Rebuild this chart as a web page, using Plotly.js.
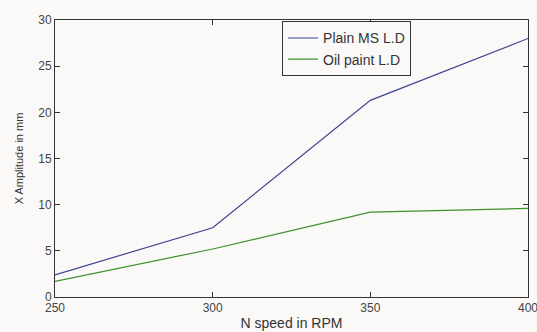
<!DOCTYPE html>
<html>
<head>
<meta charset="utf-8">
<script src="https://cdn.plot.ly/plotly-3.0.1.min.js"></script>
<style>
html,body{margin:0;padding:0;background:#fbf9f7;}
#chart{width:537px;height:332px;}
</style>
</head>
<body>
<div id="chart"></div>
<script>
const speeds = [250, 300, 350, 400];
const plainMS = [2.4, 7.5, 21.3, 28.0];
const oilPaint = [1.7, 5.2, 9.2, 9.6];
const seriesNames = ["Plain MS L.D", "Oil paint L.D"];
const xTicks = [250, 300, 350, 400];
const yTicks = [0, 5, 10, 15, 20, 25, 30];

const traces = [
  {x: speeds, y: plainMS, name: seriesNames[0], mode: "lines",
   line: {color: "#3d4494", width: 1.2}},
  {x: speeds, y: oilPaint, name: seriesNames[1], mode: "lines",
   line: {color: "#3f8f2e", width: 1.2}}
];

const axisCommon = {
  showgrid: false, zeroline: false, showline: true, mirror: "ticks",
  linecolor: "#333", linewidth: 1, ticks: "inside", ticklen: 5,
  tickcolor: "#333", ticklabeloverflow: "allow",
  tickfont: {family: "Liberation Sans, Arial", size: 12, color: "#444"}
};

const layout = {
  width: 537, height: 332,
  margin: {l: 55, r: 9, t: 20, b: 35},
  paper_bgcolor: "#fbf9f7", plot_bgcolor: "#fbf9f7",
  showlegend: true,
  legend: {x: 0.48, y: 0.995, xanchor: "left", yanchor: "top",
    bgcolor: "#fbf9f7", bordercolor: "#333", borderwidth: 1,
    font: {family: "Liberation Sans, Arial", size: 14, color: "#333"},
    tracegroupgap: 0, itemwidth: 30},
  xaxis: Object.assign({}, axisCommon, {range: [250, 400], tickvals: xTicks,
    title: {text: "N speed in RPM", standoff: 3,
      font: {family: "Liberation Sans, Arial", size: 14, color: "#333"}}}),
  yaxis: Object.assign({}, axisCommon, {range: [0, 30], tickvals: yTicks,
    title: {text: "X Amplitude in mm", standoff: 12,
      font: {family: "Liberation Sans, Arial", size: 11, color: "#333"}}})
};

Plotly.newPlot("chart", traces, layout, {displayModeBar: false, staticPlot: true});
</script>
</body>
</html>
